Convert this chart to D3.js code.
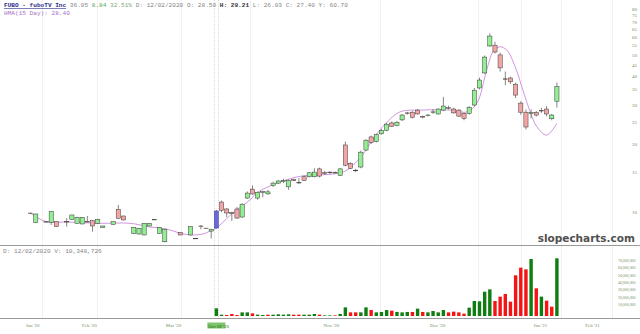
<!DOCTYPE html>
<html lang="en">
  <head>
    <meta charset="UTF-8" />
    <title>FUBO - fuboTV Inc</title>
    <script src="https://cdn.jsdelivr.net/npm/d3@7"></script>
    <style>
      body { margin: 0; background: #fff; }
      svg { display: block; }
      .hdr { font: 6.1px "Liberation Mono", monospace; fill: #858585; }
      .axis text { font: 5px "Liberation Serif", serif; fill: #6f9060; }
      .axis path, .axis line { display: none; }
      .vaxis text { font-size: 3.9px; }
      .mark { font: bold 10.5px "DejaVu Sans", sans-serif; fill: #505050; }
    </style>
  </head>
  <body>
    <svg width="640" height="334"></svg>
    <script>
      // one slot per bar; OTC part (0-35) has gaps and no volume
      const slots = [0, 1, 3, 4, 5, 7, 8, 9, 10, 11, 12, 13, 14, 16, 17, 18, 20, 21, 22, 23, 24, 25, 26, 29, 31, 32, 33, 34, 35,
        36, 37, 38, 39, 40, 41, 42, 43, 44, 45, 46, 47, 48, 49, 50, 51, 52, 53, 54, 55, 56, 57, 58, 59, 60,
        61, 62, 63, 64, 65, 66, 67, 68, 69, 70, 71, 72, 73, 74, 75, 76, 77, 78, 79, 80, 81, 82, 83, 84, 85,
        86, 87, 88, 89, 90, 91, 92, 93, 94, 95, 96, 97, 98, 99, 100, 101, 102];
      const opens = [9.86, 8.97, 9.04, 8.97, 9.03, 9.05, 9.25, 8.88, 8.82, 9.05, 9.12, 8.88, 8.49, 8.79, 10.25, 9.57, 8.0, 7.96, 7.88, 8.64, 9.25, 8.02, 7.35, 8.07, 7.88, 7.62, 8.64, 8.45, 8.2,
        8.46, 11.04, 10.28, 9.9, 10.28, 9.47, 11.5, 12.6, 11.5, 12.2, 12.0, 13.1, 13.4, 13.6, 12.9, 13.9, 13.5, 14.3, 14.3, 14.3, 15.5, 14.9, 14.9, 14.95, 14.5,
        19.8, 16.4, 15.3, 15.8, 18.8, 21.5, 20.5, 22.2, 23.0, 24.8, 24.2, 25.6, 27.5, 27.7, 28.3, 26.5, 26.8, 27.7, 27.2, 28.3, 29.0, 28.6, 28.3, 27.4, 27.4,
        29.8, 35.5, 41.4, 54.6, 55.0, 49.8, 39.0, 39.3, 36.9, 30.4, 27.7, 27.3, 27.6, 28.2, 28.6, 25.9, 31.0];
      const highs = [9.9, 9.8, 9.06, 10.05, 9.05, 9.35, 9.7, 9.5, 9.45, 9.57, 9.15, 9.3, 8.66, 9.05, 10.71, 9.6, 8.55, 8.48, 8.9, 8.9, 9.27, 8.55, 8.4, 8.1, 8.6, 7.63, 8.7, 8.47, 8.4,
        10.2, 11.2, 10.4, 10.0, 10.5, 10.9, 12.3, 13.1, 12.3, 12.4, 12.5, 13.6, 13.8, 14.0, 13.9, 14.0, 14.1, 14.5, 15.0, 15.6, 15.7, 15.2, 15.1, 15.1, 15.6,
        20.5, 16.6, 15.5, 18.7, 21.0, 21.8, 22.2, 23.3, 24.8, 25.2, 25.3, 27.2, 27.8, 28.0, 28.6, 26.8, 27.2, 28.6, 28.8, 32.4, 29.6, 29.0, 28.6, 27.6, 29.5,
        35.5, 39.5, 49.5, 62.0, 57.0, 51.0, 42.0, 39.8, 37.5, 31.0, 28.5, 28.5, 28.0, 29.0, 29.5, 27.2, 37.5];
      const lows = [9.78, 8.95, 9.0, 8.73, 8.55, 8.58, 9.2, 8.85, 8.8, 9.0, 8.15, 8.85, 8.47, 8.75, 9.3, 9.15, 7.95, 7.9, 7.85, 8.62, 9.23, 8.0, 7.3, 7.86, 7.85, 7.6, 8.35, 8.42, 7.61,
        8.4, 9.95, 9.47, 9.1, 9.3, 9.4, 11.4, 11.9, 11.3, 11.6, 11.9, 12.9, 13.3, 13.4, 12.5, 13.7, 13.3, 13.7, 14.2, 14.2, 14.2, 14.6, 14.7, 14.8, 14.4,
        15.9, 15.5, 15.0, 15.6, 18.6, 20.0, 20.3, 22.0, 22.8, 23.8, 24.0, 25.3, 27.0, 26.0, 27.0, 26.0, 26.5, 27.2, 27.0, 28.0, 28.5, 27.3, 26.4, 25.5, 27.0,
        29.5, 35.0, 41.0, 54.0, 50.5, 42.0, 36.5, 37.0, 32.0, 27.0, 23.2, 26.0, 26.5, 27.5, 26.5, 25.5, 29.0];
      const closes = [9.84, 9.77, 9.03, 10.0, 8.58, 9.03, 9.67, 9.44, 9.44, 9.03, 8.64, 9.25, 8.64, 9.03, 9.35, 9.19, 8.52, 8.44, 8.88, 8.88, 9.25, 8.52, 8.35, 7.88, 8.58, 7.61, 8.62, 8.44, 8.35,
        10.07, 10.15, 9.87, 9.8, 9.37, 10.8, 12.1, 11.99, 12.2, 12.3, 12.25, 13.4, 13.7, 13.75, 13.8, 13.75, 13.45, 13.8, 14.9, 15.0, 14.4, 14.85, 15.0, 14.9, 15.5,
        16.1, 15.6, 15.2, 18.4, 20.8, 20.3, 22.0, 23.0, 24.5, 24.0, 25.0, 26.9, 27.4, 26.3, 27.2, 26.4, 26.9, 27.8, 28.6, 29.5, 28.9, 27.5, 26.6, 26.0, 29.1,
        34.7, 38.5, 48.7, 60.4, 51.3, 43.6, 38.8, 37.8, 33.0, 27.7, 23.8, 27.6, 26.9, 28.1, 27.2, 26.9, 36.05];

      // volume in millions, slots 36..102
      const volStart = 36;
      const volumes = [9.5, 1.65, 1.24, 2.5, 1.24, 4.5, 4.5, 3.3, 1.65, 1.24, 1.65, 1.65, 2.1, 1.65, 2.1, 1.65, 1.65, 1.65, 1.65, 2.5, 1.65,
        0.8, 0.8, 0.8, 2.5, 10.7, 4.5, 4.5, 4.5, 10.7, 7.4, 4.5, 5.0, 7.4, 6.6, 5.0, 4.5, 5.0, 5.0, 9.1, 5.0, 4.5, 6.2, 4.5, 7.4,
        4.5, 5.4, 4.5, 2.9, 10.3, 18.6, 18.2, 30.1, 33.0, 18.6, 24.0, 27.3, 17.8, 50.4, 59.9, 57.8, 70.6, 34.3, 24.0, 19.0, 11.6, 71.5];

      // HMA(15)
      const hmaSlots = [0, 3, 7, 13.4, 19.3, 23.1, 26.4, 29, 31.5, 33.4, 34.8, 36, 39.2, 42.5, 44.1, 47.8, 51.6, 54.7, 58.6, 61.3,
        64.4, 66.2, 68.7, 71.6, 75.5, 81.3, 84.6, 86.5, 88.4, 89.6, 90.9, 92.3, 93.9, 95.4, 96.7, 98.1, 100, 102];
      const hmaValues = [9.84, 9.03, 9.0, 8.88, 8.88, 8.55, 8.37, 8.02, 7.88, 7.96, 8.2, 8.46, 9.87, 11.27, 12.24, 13.4, 14.27, 14.57, 14.7, 15.3,
        18.0, 20.8, 24.5, 27.8, 28.3, 28.3, 27.8, 30.4, 42.7, 51.3, 54.1, 52.3, 44.2, 34.8, 28.3, 23.9, 21.9, 24.7];

      const priceTicks = d3.range(10, 81, 5);
      const volTicks = [10e6, 20e6, 30e6, 40e6, 50e6, 60e6, 70e6];
      const monthSlots = [0.3, 11.3, 27.6, 58.2, 78.8, 98.7, 108.8];
      const monthLabels = ["Jan '20", "Feb '20", "Mar '20", "Nov '20", "Dec '20", "Jan '21", "Feb '21"];
      const gridSlots = [2.2, 12.9, 29.1, 42.5, 67.7, 86.7, 95, 102.8, 112.7];
      const markSlot = 36; // highlighted bar / crosshair

      const svg = d3.select('svg');
      const x = d3.scaleLinear().domain([0, 102]).range([30.6, 556.9]);
      const y = d3.scaleLog().domain([10, 80]).range([211.7, 8.6]);
      const yVol = d3.scaleLinear().domain([0, 70e6]).range([316, 259.5]);
      const yVolAxis = d3.scaleLinear().domain([0, 70e6]).range([311.8, 260]);
      const px = (v) => Math.round(v) + 0.5;

      const candles = slots.map((s, i) => ({
        slot: s, o: opens[i], h: highs[i], l: lows[i], c: closes[i],
      }));

      // gridlines
      svg.append('g')
        .selectAll('line')
        .data(gridSlots)
        .enter()
        .append('line')
        .attr('x1', (d) => px(x(d)))
        .attr('x2', (d) => px(x(d)))
        .attr('y1', 0)
        .attr('y2', 318)
        .attr('stroke', '#ebebeb')
        .attr('stroke-width', 0.7);

      // crosshair (dotted)
      [-2, 2].forEach((off) => {
        svg.append('line')
          .attr('x1', px(x(markSlot) + off)).attr('x2', px(x(markSlot) + off))
          .attr('y1', 0).attr('y2', 318)
          .attr('stroke', '#d2d2d2').attr('stroke-width', 0.8)
          .attr('stroke-dasharray', '1,1');
      });

      // panel borders
      svg.append('line').attr('x1', 0).attr('x2', 640).attr('y1', 245.5).attr('y2', 245.5)
        .attr('stroke', '#9a9a9a').attr('stroke-width', 1);
      svg.append('line').attr('x1', 0).attr('x2', 640).attr('y1', 318.5).attr('y2', 318.5)
        .attr('stroke', '#9a9a9a').attr('stroke-width', 1);

      // watermark
      svg.append('text').attr('class', 'mark')
        .attr('x', 635).attr('y', 241.5).attr('text-anchor', 'end')
        .text('slopecharts.com');

      // HMA line
      const hma = hmaSlots.map((s, i) => [s, hmaValues[i]]);
      svg.append('path')
        .datum(hma)
        .attr('fill', 'none')
        .attr('stroke', '#c57ad8')
        .attr('stroke-width', 0.8)
        .attr('d', d3.line().x((d) => x(d[0])).y((d) => y(d[1])).curve(d3.curveCatmullRom));

      // candles
      const bw = 4.2;
      const cg = svg.append('g')
        .selectAll('g')
        .data(candles)
        .enter()
        .append('g');

      cg.append('line')
        .attr('x1', (d) => x(d.slot))
        .attr('x2', (d) => x(d.slot))
        .attr('y1', (d) => y(d.h))
        .attr('y2', (d) => y(d.l))
        .attr('stroke', '#333')
        .attr('stroke-width', 0.6);

      cg.append('rect')
        .attr('x', (d) => x(d.slot) - bw / 2)
        .attr('width', bw)
        .attr('y', (d) => y(Math.max(d.o, d.c)))
        .attr('height', (d) => Math.max(0.6, Math.abs(y(d.o) - y(d.c))))
        .attr('fill', (d) =>
          d.slot === markSlot ? '#6a6ad6' : d.c >= d.o ? '#92ee92' : '#f3a5a5'
        )
        .attr('stroke', (d) => (d.slot === markSlot ? '#4444aa' : '#3a3a3a'))
        .attr('stroke-width', 0.5);

      // volume bars (colour by close vs previous close)
      const vols = volumes.map((v, i) => {
        const idx = slots.indexOf(volStart + i);
        return {
          slot: volStart + i,
          v: v * 1e6,
          up: idx === 0 || closes[idx] >= closes[idx - 1],
        };
      });
      const vw = 3.4;
      svg.append('g')
        .selectAll('rect')
        .data(vols)
        .enter()
        .append('rect')
        .attr('x', (d) => x(d.slot) - vw / 2)
        .attr('width', vw)
        .attr('y', (d) => yVol(d.v))
        .attr('height', (d) => yVol(0) - yVol(d.v))
        .attr('fill', (d) => (d.up ? '#0f7d12' : '#f41414'));

      // price axis
      svg.append('g')
        .attr('class', 'axis')
        .attr('transform', 'translate(629,0)')
        .call(d3.axisRight(y).tickValues(priceTicks).tickFormat(d3.format('d')).tickSize(0).tickPadding(3));

      // volume axis
      svg.append('g')
        .attr('class', 'axis vaxis')
        .attr('transform', 'translate(615,0)')
        .call(d3.axisRight(yVolAxis).tickValues(volTicks).tickFormat(d3.format(',')).tickSize(0).tickPadding(3));

      // date axis
      svg.append('g')
        .attr('class', 'axis')
        .attr('transform', 'translate(0,323.5)')
        .call(d3.axisBottom(x).tickValues(monthSlots).tickFormat((d, i) => monthLabels[i]).tickSize(0).tickPadding(0));

      // crosshair date label
      svg.append('rect')
        .attr('x', x(markSlot) - 9).attr('y', 322.5)
        .attr('width', 18).attr('height', 6)
        .attr('fill', '#7cc56c');
      svg.append('text')
        .attr('x', x(markSlot) - 8).attr('y', 327.5)
        .style('font', '5px "Liberation Serif", serif')
        .attr('fill', '#2f6b22')
        .text("Oct 08 '20");

      // header
      const h1 = svg.append('text').attr('class', 'hdr').attr('x', 4).attr('y', 7);
      h1.append('tspan').attr('fill', '#2b2b8c').attr('font-weight', 'bold')
        .attr('text-decoration', 'underline').text('FUBO - fuboTV Inc');
      h1.append('tspan').text(' 36.05');
      h1.append('tspan').attr('fill', '#53a853').text(' 8.84');
      h1.append('tspan').attr('fill', '#7fa87f').text(' 32.51%');
      h1.append('tspan').text(' D: 12/02/2020 O: 28.50');
      h1.append('tspan').attr('fill', '#333').attr('font-weight', 'bold').text(' H: 29.21');
      h1.append('tspan').text(' L: 26.03 C: 27.40 Y: 60.70');

      svg.append('text').attr('class', 'hdr').attr('x', 4).attr('y', 14.5)
        .style('fill', '#a46fc4')
        .text('HMA(15 Day): 28.40');

      svg.append('text').attr('class', 'hdr').attr('x', 3).attr('y', 252.5)
        .text('D: 12/02/2020 V: 10,348,726');
    </script>
  </body>
</html>
